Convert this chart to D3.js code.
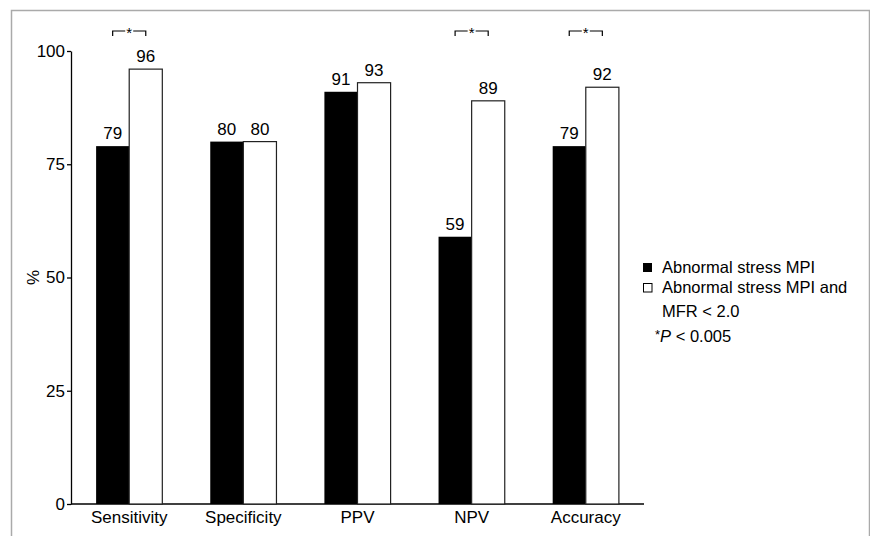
<!doctype html>
<html lang="en">
<head>
<meta charset="utf-8">
<title>MPI diagnostic performance</title>
<style>
  body { margin: 0; background: #fff; }
  svg text { font-family: "Liberation Sans", Arial, Helvetica, sans-serif; fill: #000; }
  .frame { fill: none; stroke: #aaa; stroke-width: 1.5px; }
  .axis path, .axis line { stroke: #000; stroke-width: 1.3px; }
</style>
</head>
<body>
<svg width="870" height="536"></svg>
<script src="https://d3js.org/d3.v7.min.js"></script>
<script>
var categories = ["Sensitivity", "Specificity", "PPV", "NPV", "Accuracy"];
var mpiValues = [79, 80, 91, 59, 79];
var mfrValues = [96, 80, 93, 89, 92];
var significant = [true, false, false, true, true];
var yTicks = [0, 25, 50, 75, 100];
var seriesNames = ["Abnormal stress MPI", "Abnormal stress MPI and"];

var svg = d3.select("svg");

// outer frame
svg.append("path").attr("class", "frame")
  .attr("d", "M11.5,540 V10.5 H869.5 V540");

var plotL = 71, plotR = 644, plotT = 51, plotB = 504;

var x = d3.scaleBand().domain(categories).range([plotL, plotR])
  .paddingInner(0.42).paddingOuter(0.22);
var sub = d3.scaleBand().domain([0, 1]).range([0, x.bandwidth()]);
var y = d3.scaleLinear().domain([0, 100]).range([plotB, plotT]);

// y axis
var yAxis = svg.append("g").attr("class", "axis")
  .attr("transform", "translate(" + plotL + ",0)")
  .call(d3.axisLeft(y).tickValues(yTicks).tickSize(4).tickSizeOuter(0).tickPadding(2));
yAxis.selectAll("text").style("font-size", "17px").style("font-family", "Liberation Sans, Arial, sans-serif");

// x axis line
svg.append("line")
  .attr("x1", plotL).attr("x2", plotR).attr("y1", plotB).attr("y2", plotB)
  .attr("stroke", "#000").attr("stroke-width", 1.3);

svg.append("text")
  .attr("transform", "translate(39," + y(50) + ") rotate(-90)")
  .attr("text-anchor", "middle")
  .style("font-size", "17px")
  .text("%");

// category labels
svg.selectAll(".cat").data(categories).enter().append("text")
  .attr("class", "cat")
  .attr("x", function (d) { return x(d) + x.bandwidth() / 2; })
  .attr("y", 523)
  .attr("text-anchor", "middle")
  .style("font-size", "17px")
  .text(function (d) { return d; });

var rows = categories.map(function (c, i) {
  return { cat: c, vals: [mpiValues[i], mfrValues[i]], sig: significant[i] };
});

var groups = svg.selectAll(".grp").data(rows).enter().append("g")
  .attr("class", "grp")
  .attr("transform", function (d) { return "translate(" + x(d.cat) + ",0)"; });

groups.selectAll("rect").data(function (d) { return d.vals; }).enter().append("rect")
  .attr("x", function (d, j) { return sub(j); })
  .attr("y", function (d) { return y(d); })
  .attr("width", sub.bandwidth())
  .attr("height", function (d) { return plotB - y(d); })
  .attr("fill", function (d, j) { return j === 0 ? "#000" : "#fff"; })
  .attr("stroke", "#222")
  .attr("stroke-width", function (d, j) { return j === 0 ? 0 : 1.2; });

groups.selectAll(".val").data(function (d) { return d.vals; }).enter().append("text")
  .attr("class", "val")
  .attr("x", function (d, j) { return sub(j) + sub.bandwidth() / 2; })
  .attr("y", function (d) { return y(d) - 7; })
  .attr("text-anchor", "middle")
  .style("font-size", "17px")
  .text(function (d) { return d; });

// significance brackets, with a gap for the asterisk
var sigGroups = groups.filter(function (d) { return d.sig; });
sigGroups.append("path")
  .attr("d", function () {
    var x0 = sub(0) + sub.bandwidth() / 2, x1 = sub(1) + sub.bandwidth() / 2;
    var mid = x.bandwidth() / 2;
    return "M" + x0 + ",36 V31 H" + (mid - 4) + " M" + (mid + 4) + ",31 H" + x1 + " V36";
  })
  .attr("fill", "none").attr("stroke", "#000").attr("stroke-width", 1.2);
sigGroups.append("text")
  .attr("x", x.bandwidth() / 2)
  .attr("y", 38)
  .attr("text-anchor", "middle")
  .style("font-size", "15px")
  .text("*");

// legend
var lg = svg.append("g").attr("transform", "translate(643,263)");
lg.append("rect").attr("width", 9).attr("height", 9).attr("fill", "#000");
lg.append("text").attr("x", 19).attr("y", 9.5).style("font-size", "16.5px").text(seriesNames[0]);
lg.append("rect").attr("x", 0.5).attr("y", 20.5).attr("width", 8.5).attr("height", 8.5)
  .attr("fill", "#fff").attr("stroke", "#000").attr("stroke-width", 1);
lg.append("text").attr("x", 19).attr("y", 30).style("font-size", "16.5px").text(seriesNames[1]);
lg.append("text").attr("x", 19).attr("y", 54).style("font-size", "16.5px").text("MFR < 2.0");
var pt = lg.append("text").attr("x", 12).attr("y", 79).style("font-size", "16.5px");
pt.append("tspan").attr("dy", -3).style("font-size", "13px").text("*");
pt.append("tspan").attr("dy", 3).style("font-style", "italic").text("P");
pt.append("tspan").text(" < 0.005");
</script>
</body>
</html>
